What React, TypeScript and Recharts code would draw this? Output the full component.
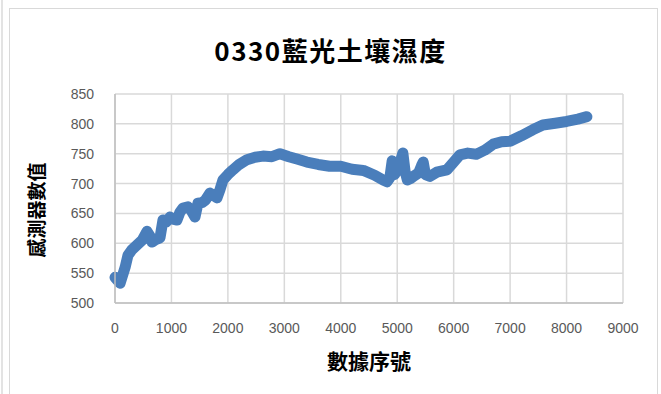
import { CartesianGrid, Line, LineChart, XAxis, YAxis } from "recharts";

const sampleIndex = [
    0, 90, 180, 230, 300, 390, 480, 567, 620, 655, 720, 797, 850, 910, 975, 1040, 1098, 1150, 1205,
    1293, 1350, 1417, 1470, 1540, 1600, 1683, 1750, 1807, 1860, 1913, 2000, 2090, 2200, 2338, 2480,
    2622, 2780, 2923, 3080, 3224, 3400, 3600, 3800, 4000, 4200, 4400, 4600, 4750, 4820, 4870, 4910,
    4950, 5000, 5050, 5100, 5140, 5180, 5230, 5300, 5380, 5430, 5460, 5500, 5580, 5700, 5880, 6000,
    6110, 6250, 6400, 6550, 6700, 6850, 7000, 7200, 7400, 7580, 7800, 8000, 8200, 8360,
];

const sensorValue = [
    543, 533, 560, 580, 589, 597, 605, 620, 612, 602, 606, 609, 639, 636, 644, 640, 639, 652, 659,
    661, 655, 644, 667, 668, 672, 684, 680, 676, 690, 706, 715, 723, 732, 740, 744,
    746, 745, 750, 745, 741, 736, 732, 729, 729, 724, 722, 714, 706, 703, 710, 738,
    715, 722, 735, 751, 720, 706, 708, 713, 718, 730, 736, 715, 712, 719, 723, 736,
    748, 751, 749, 756, 766, 770, 771, 780, 790, 798, 801, 804, 808, 812,
];

const xTicks = [0, 1000, 2000, 3000, 4000, 5000, 6000, 7000, 8000, 9000];
const yTicks = [500, 550, 600, 650, 700, 750, 800, 850];

const data = sampleIndex.map((x, i) => ({ x, y: sensorValue[i] }));

const tickStyle = { fill: "#595959", fontSize: 14, fontFamily: "'Liberation Sans', Arial, sans-serif" };
const labelFont = "'Noto Sans CJK TC', 'Noto Sans', sans-serif";

export default function App() {
    return (
        <div style={{ position: "absolute", left: 0, top: 0, width: 661, height: 394, background: "#fff", overflow: "hidden" }}>
            <div style={{ position: "absolute", left: 1, top: 0, width: 2, height: 394, background: "#e3e3e3" }} />
            <div style={{ position: "absolute", left: 9, top: 8, width: 647, height: 400, border: "1px solid #d9d9d9" }} />
            <div
                style={{
                    position: "absolute", left: 0, top: 34, width: 661, textAlign: "center",
                    fontFamily: labelFont, fontWeight: 700, fontSize: 26, letterSpacing: 1.5,
                    color: "#000", lineHeight: "32px",
                }}
            >
                0330藍光土壤濕度
            </div>
            <div
                style={{
                    position: "absolute", left: 115, top: 345, width: 508, textAlign: "center",
                    fontFamily: labelFont, fontWeight: 700, fontSize: 21, color: "#000", lineHeight: "30px",
                }}
            >
                數據序號
            </div>
            <div style={{ position: "absolute", left: 36, top: 210, width: 0, height: 0 }}>
                <div
                    style={{
                        position: "absolute", left: -60, top: -14, width: 120, textAlign: "center",
                        fontFamily: labelFont, fontWeight: 700, fontSize: 19, color: "#000", lineHeight: "28px",
                        transform: "rotate(-90deg)",
                    }}
                >
                    感測器數值
                </div>
            </div>
            <div style={{ position: "absolute", left: 0, top: 0 }}>
                <LineChart width={661} height={394} data={data} margin={{ top: 94, right: 38, left: 55, bottom: 61 }}>
                    <CartesianGrid stroke="#d9d9d9" strokeWidth={1.5} />
                    <XAxis
                        dataKey="x"
                        type="number"
                        domain={[0, 9000]}
                        ticks={xTicks}
                        height={30}
                        tickLine={false}
                        axisLine={{ stroke: "#bfbfbf", strokeWidth: 1.5 }}
                        tick={tickStyle}
                        tickMargin={14}
                        interval={0}
                    />
                    <YAxis
                        type="number"
                        domain={[500, 850]}
                        ticks={yTicks}
                        width={60}
                        tickLine={false}
                        axisLine={{ stroke: "#bfbfbf", strokeWidth: 1.5 }}
                        tick={tickStyle}
                        tickMargin={15}
                        interval={0}
                    />
                    <Line
                        dataKey="y"
                        type="linear"
                        stroke="#4a7ebb"
                        strokeWidth={11}
                        strokeLinecap="round"
                        strokeLinejoin="round"
                        dot={false}
                        isAnimationActive={false}
                    />
                </LineChart>
            </div>
        </div>
    );
}
